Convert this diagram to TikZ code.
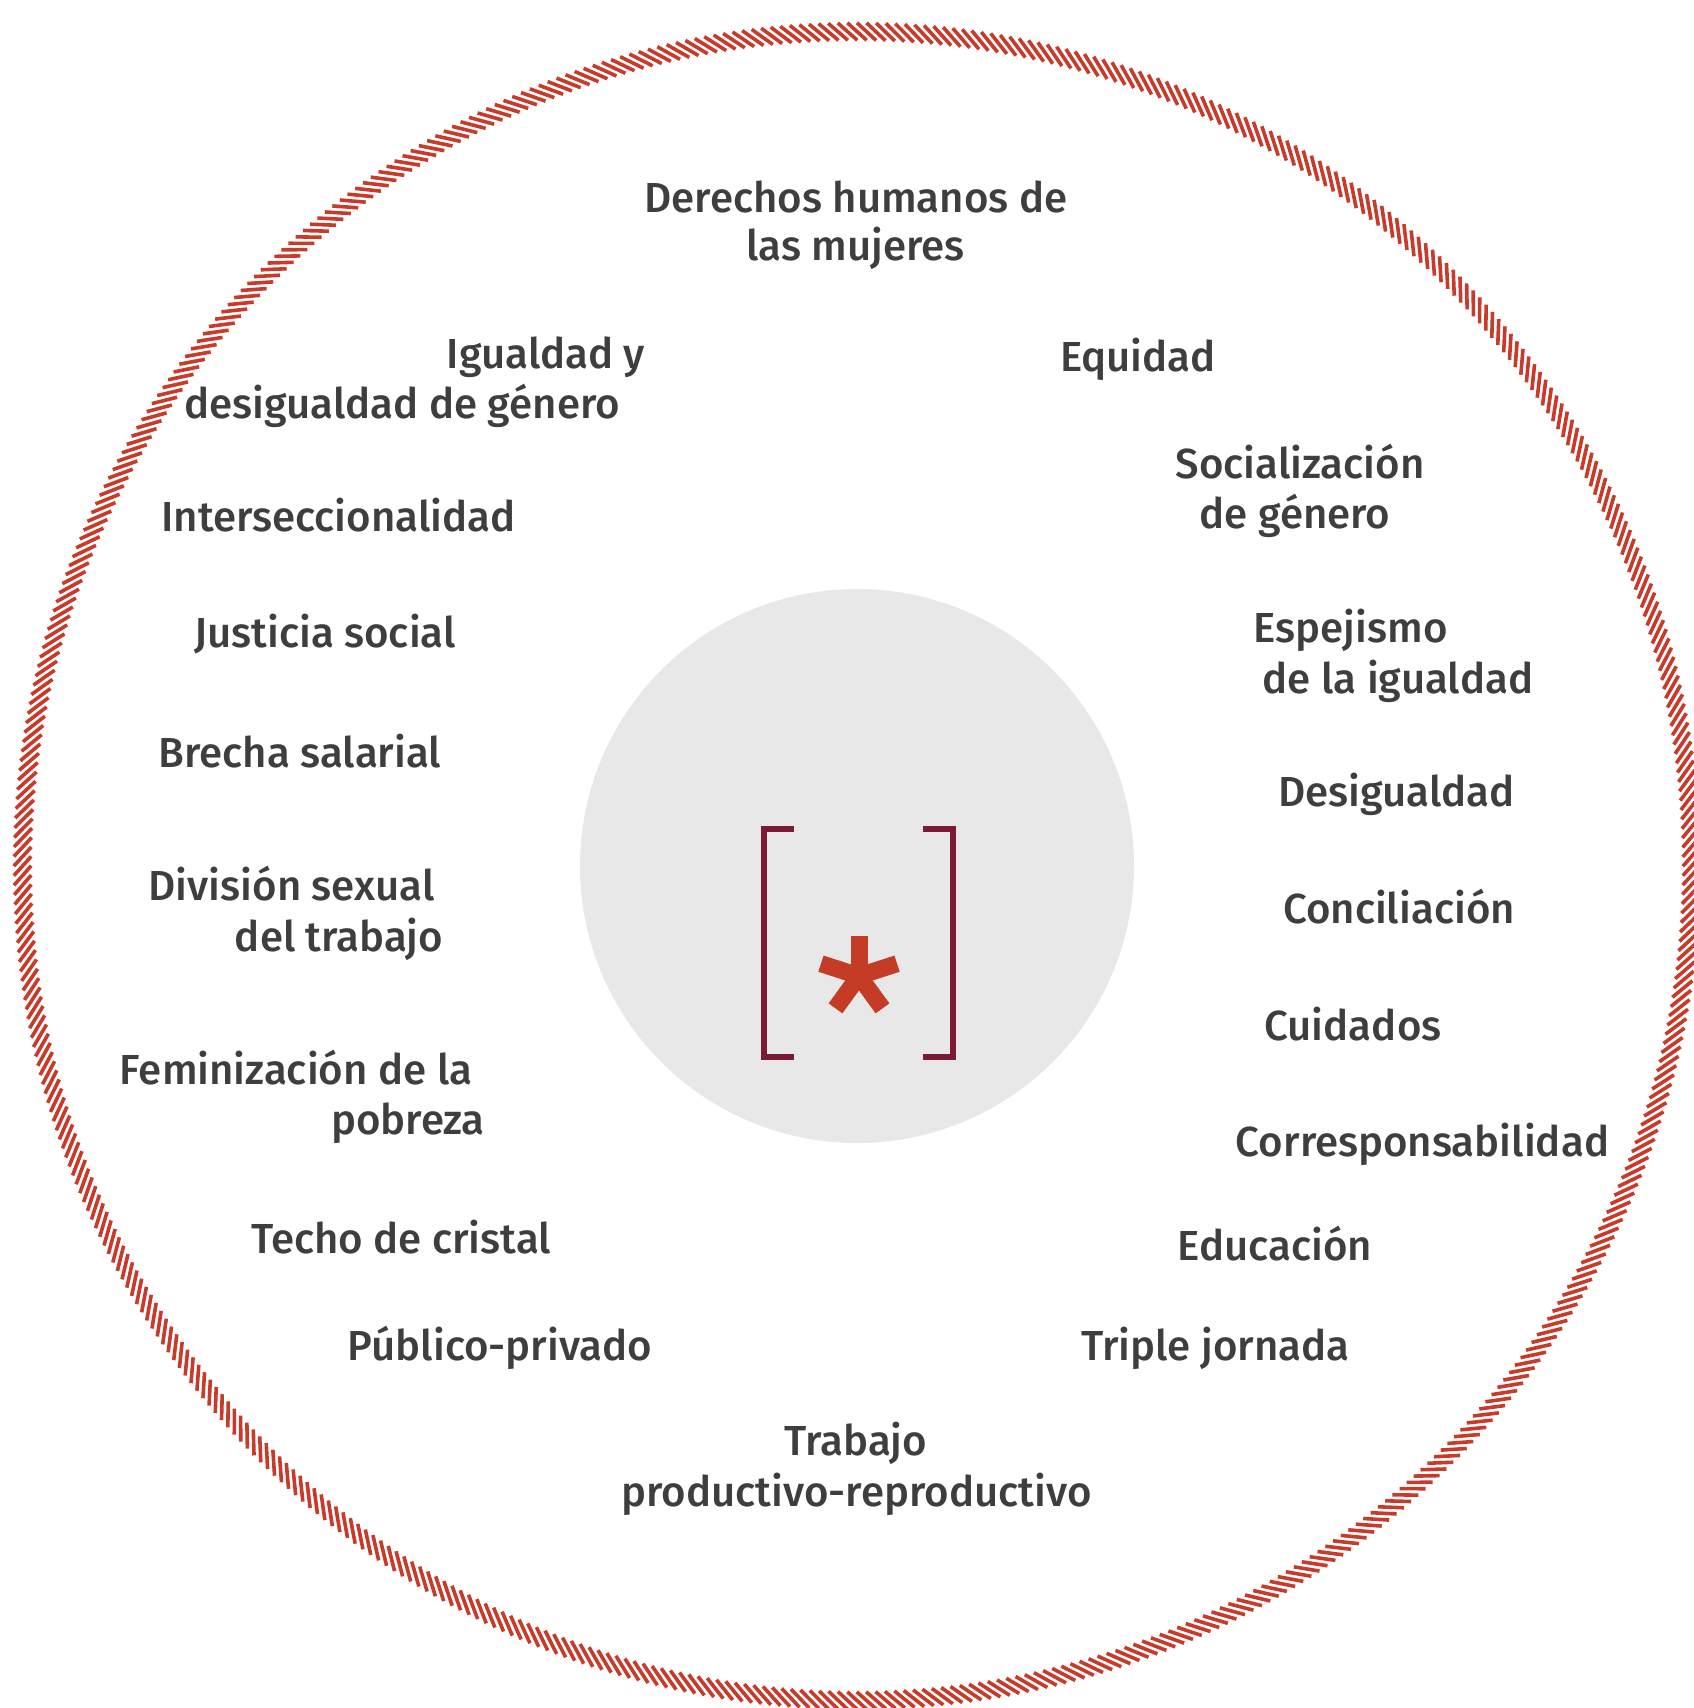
\documentclass[tikz,border=0pt]{standalone}
\usepackage{fontspec}
\setmainfont{Fira Sans}[UprightFont={* Medium}]
\definecolor{ringred}{RGB}{200,58,42}
\definecolor{disc}{RGB}{232,232,232}
\definecolor{maroon}{RGB}{123,26,53}
\definecolor{astred}{RGB}{196,59,38}
\definecolor{txt}{RGB}{62,62,62}
\tikzset{
  ticks/.style={ringred, line width=3.6pt},
  lbl/.style={font=\fontsize{42}{48}\selectfont, text=txt, inner sep=0pt, anchor=base},
  brk/.style={maroon, line width=6.5pt, line join=miter},
  astarm/.style={astred, line width=17pt, line cap=butt}
}
\begin{document}
\begin{tikzpicture}[x=1pt,y=-1pt]
\useasboundingbox (0,0) rectangle (1694,1708);
% outer ring of ticks
\foreach \i in {0,...,551}{
  \pgfmathsetmacro\a{0.652174*\i}
  \draw[ticks] ({857+834.5*cos(\a)+13*cos(\a-48)},{866+834.5*sin(\a)+13*sin(\a-48)})
    -- ({857+834.5*cos(\a)-13*cos(\a-48)},{866+834.5*sin(\a)-13*sin(\a-48)});
}
% grey disc
\fill[disc] (857,866) circle[radius=277];
% brackets
\draw[brk] (794,829) -- (764,829) -- (764,1057) -- (794,1057);
\draw[brk] (923,829) -- (953,829) -- (953,1057) -- (923,1057);
% asterisk
\coordinate (ast) at (859,976);
\foreach \ang in {-90,-162,-18,126,54}{
  \draw[astarm] (ast) -- ++(\ang:40);
}
% labels
\node[lbl] (t1a) at (856,212) {Derechos humanos de};
\node[lbl] (t1b) at (855.5,260) {las mujeres};
\node[lbl] (t2a) at (546,368) {Igualdad y};
\node[lbl] (t2b) at (402,418) {desigualdad de género};
\node[lbl] (t3) at (338.5,531) {Interseccionalidad};
\node[lbl] (t4) at (325,647) {Justicia social};
\node[lbl] (t5) at (300,767) {Brecha salarial};
\node[lbl] (t6a) at (291.5,900) {División sexual};
\node[lbl] (t6b) at (339,951) {del trabajo};
\node[lbl] (t7a) at (296,1084) {Feminización de la};
\node[lbl] (t7b) at (408,1134) {pobreza};
\node[lbl] (t8) at (401,1253) {Techo de cristal};
\node[lbl] (t9) at (500,1360) {Público-privado};
\node[lbl] (t10a) at (856,1455) {Trabajo};
\node[lbl] (t10b) at (856.5,1506) {productivo-reproductivo};
\node[lbl] (t11) at (1138,371) {Equidad};
\node[lbl] (t12a) at (1300,478) {Socialización};
\node[lbl] (t12b) at (1295,528) {de género};
\node[lbl] (t13a) at (1350.5,642) {Espejismo};
\node[lbl] (t13b) at (1398,693) {de la igualdad};
\node[lbl] (t14) at (1396.5,806) {Desigualdad};
\node[lbl] (t15) at (1399,923) {Conciliación};
\node[lbl] (t16) at (1353,1040) {Cuidados};
\node[lbl] (t17) at (1422.5,1156) {Corresponsabilidad};
\node[lbl] (t18) at (1275,1260) {Educación};
\node[lbl] (t19) at (1215.5,1360) {Triple jornada};
\end{tikzpicture}
\end{document}
